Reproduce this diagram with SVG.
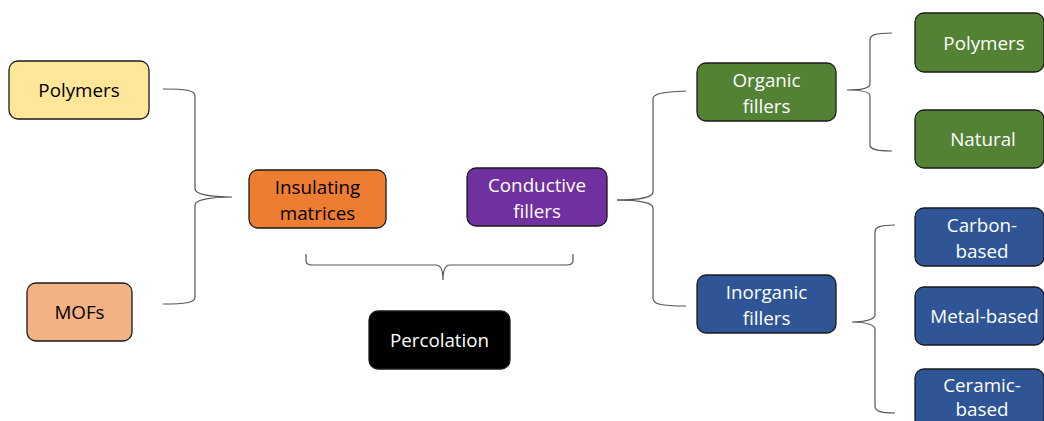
<svg xmlns="http://www.w3.org/2000/svg" width="1044" height="421" viewBox="0 0 1044 421">
<style>
.box{stroke:#1a1a1a;stroke-width:1.3}
.t{font-family:"Open Sans","Noto Sans",sans-serif;font-size:18.8px;text-anchor:middle}
.w{fill:#fff}
.k{fill:#000}
.br{fill:none;stroke:#555;stroke-width:1.2}
</style>
<rect width="1044" height="421" fill="#fff"/>
<g id="connectors">
<path class="br" d="M163,89 C185,89 195,90 195,96 L195,189 C195,194 210,197 232,197 C210,197 195,200 195,205 L195,297 C195,303 185,304 163,304"/>
<path class="br" d="M306,254 L306,261 C306,264 308,265 313,265 L436,265 C440,265 443,268 443,280 C443,268 446,265 450,265 L566,265 C571,265 573,264 573,261 L573,254"/>
<path class="br" d="M617,200 C640,200 653,197 653,192 L653,99 C653,94 660,92 686,91"/>
<path class="br" d="M617,200 C640,200 653,203 653,208 L653,298 C653,304 660,306 686,306"/>
<path class="br" d="M892,33 C875,33 870,35 870,40 L870,84 C870,88 862,90 847,90 C862,90 870,92 870,96 L870,145 C870,149 875,151 892,151"/>
<path class="br" d="M895,225 C880,225 875,227 875,232 L875,315 C875,319 866,322 852,322 C866,322 875,325 875,329 L875,406 C875,411 880,413 895,413"/>
</g>
<g id="polymers-left"><rect class="box" x="9" y="61" width="140" height="58" rx="9" fill="#FFE699"/><text class="t k" x="79" y="97">Polymers</text></g>
<g id="mofs"><rect class="box" x="27" y="283" width="105" height="58" rx="9" fill="#F4B183"/><text class="t k" x="79.5" y="319">MOFs</text></g>
<g id="insulating"><rect class="box" x="249" y="170" width="137" height="58" rx="9" fill="#ED7D31"/><text class="t k" x="317.5" y="194">Insulating</text><text class="t k" x="317.5" y="220">matrices</text></g>
<g id="conductive"><rect class="box" x="467" y="168" width="140" height="58" rx="9" fill="#7030A0"/><text class="t w" x="537" y="192">Conductive</text><text class="t w" x="537" y="218">fillers</text></g>
<g id="percolation"><rect class="box" x="369" y="311" width="141" height="58" rx="9" fill="#000"/><text class="t w" x="439.5" y="347">Percolation</text></g>
<g id="organic"><rect class="box" x="697" y="63" width="139" height="58" rx="9" fill="#548235"/><text class="t w" x="766.5" y="87">Organic</text><text class="t w" x="766.5" y="113">fillers</text></g>
<g id="inorganic"><rect class="box" x="697" y="275" width="139" height="58" rx="9" fill="#2F5597"/><text class="t w" x="766.5" y="299">Inorganic</text><text class="t w" x="766.5" y="325">fillers</text></g>
<g id="polymers-green"><rect class="box" x="915" y="13" width="129" height="59" rx="9" fill="#548235"/><text class="t w" x="984" y="50">Polymers</text></g>
<g id="natural"><rect class="box" x="915" y="110" width="129" height="58" rx="9" fill="#548235"/><text class="t w" x="983" y="146">Natural</text></g>
<g id="carbon"><rect class="box" x="915" y="208" width="129" height="58" rx="9" fill="#2F5597"/><text class="t w" x="982" y="232">Carbon-</text><text class="t w" x="982" y="258">based</text></g>
<g id="metal"><rect class="box" x="915" y="287" width="129" height="58" rx="9" fill="#2F5597"/><text class="t w" x="984.5" y="323">Metal-based</text></g>
<g id="ceramic"><rect class="box" x="915" y="369" width="129" height="60" rx="9" fill="#2F5597"/><text class="t w" x="982" y="392">Ceramic-</text><text class="t w" x="982" y="416">based</text></g>
</svg>
